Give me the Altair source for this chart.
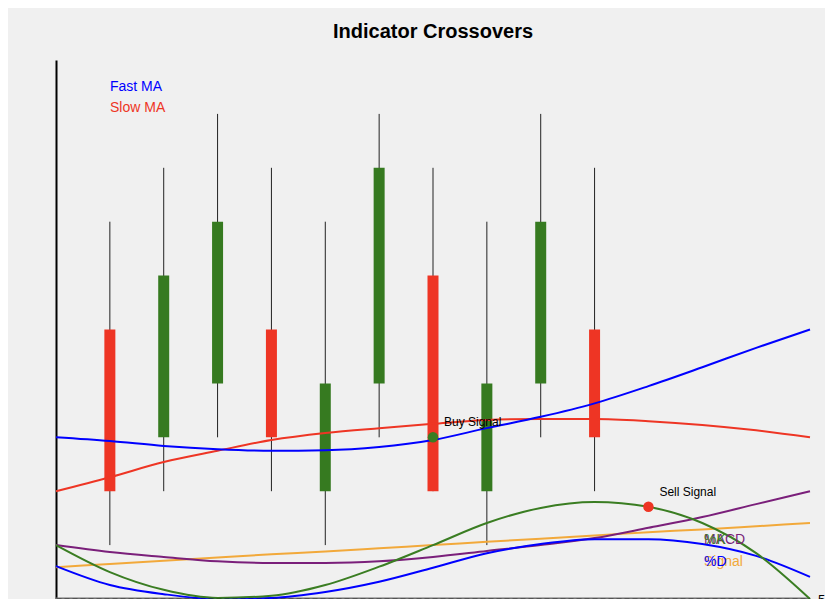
import altair as alt
import pandas as pd

# ---- data ----
candle_x = [1, 2, 3, 4, 5, 6, 7, 8, 9, 10]
opens = [5, 3, 4, 5, 2, 4, 6, 2, 4, 5]
closes = [2, 6, 7, 3, 4, 8, 2, 4, 7, 3]
highs = [7, 8, 9, 8, 7, 9, 8, 7, 9, 8]
lows = [1, 2, 3, 2, 1, 3, 2, 1, 3, 2]

line_x = list(range(15))
fast_ma = [3.0, 2.93, 2.84, 2.78, 2.75, 2.76, 2.82, 2.95, 3.17, 3.38, 3.63, 3.95, 4.3, 4.66, 5.0]
slow_ma = [2.0, 2.26, 2.54, 2.75, 2.95, 3.08, 3.17, 3.25, 3.32, 3.34, 3.34, 3.3, 3.23, 3.13, 3.0]
macd = [1.0, 0.87, 0.78, 0.7, 0.67, 0.67, 0.7, 0.78, 0.89, 1.0, 1.13, 1.32, 1.52, 1.76, 2.0]
signal = [0.59, 0.65, 0.71, 0.77, 0.83, 0.88, 0.94, 1.0, 1.06, 1.12, 1.18, 1.24, 1.29, 1.35, 1.41]
pct_k = [1.0, 0.5, 0.17, 0.02, 0.06, 0.26, 0.6, 1.0, 1.41, 1.69, 1.8, 1.71, 1.41, 0.85, 0.0]
pct_d = [0.61, 0.26, 0.09, 0.0, 0.02, 0.13, 0.32, 0.58, 0.85, 1.02, 1.11, 1.11, 1.02, 0.8, 0.41]

signal_x = [7, 11]
signal_y = [3.0, 1.71]
signal_label = ["Buy Signal", "Sell Signal"]
signal_color = ["#3a7d22", "#ee3524"]

title_text = ["Indicator Crossovers"]
end_label = ["50"]

FONT = "Liberation Sans"
RED = "#ee3524"
GREEN = "#367a20"
BLUE = "#0000ff"
PURPLE = "#7a1f7a"
ORANGE = "#f2a93b"
OSC_GREEN = "#3a7d22"

candles = pd.DataFrame({"x": candle_x, "open": opens, "close": closes,
                        "high": highs, "low": lows})
candles["dir"] = ["up" if c > o else "down" for o, c in zip(opens, closes)]

lines = pd.DataFrame({"x": line_x, "fast": fast_ma, "slow": slow_ma,
                      "macd": macd, "signal": signal, "k": pct_k, "d": pct_d})
sig = pd.DataFrame({"x": signal_x, "y": signal_y, "label": signal_label, "c": signal_color})

xs = alt.Scale(domain=[0, 14], nice=False, zero=False, padding=0)
ys = alt.Scale(domain=[0, 10], nice=False, zero=False, padding=0)

X = alt.X("x:Q", scale=xs, axis=alt.Axis(domain=True, domainColor="#000", domainDash=[5, 3],
                                          domainWidth=1.5, ticks=False, labels=False,
                                          grid=False, title=None, zindex=2))
Yax = alt.Axis(domain=True, domainColor="#000", domainWidth=2, ticks=False, labels=False,
               grid=False, title=None)

base_axis_rule = alt.Chart(pd.DataFrame({"x": [0]})).mark_rule(
    color="#707070", strokeWidth=3).encode(x=alt.value(0), x2=alt.value(754), y=alt.value(539))

wicks = alt.Chart(candles).mark_rule(color="#222222", strokeWidth=1).encode(
    x=X, y=alt.Y("low:Q", scale=ys, axis=Yax), y2="high:Q")

bodies = alt.Chart(candles).mark_bar(size=11).encode(
    x=alt.X("x:Q", scale=xs),
    y=alt.Y("open:Q", scale=ys), y2="close:Q",
    color=alt.Color("dir:N", scale=alt.Scale(domain=["up", "down"], range=[GREEN, RED]), legend=None))

def line(field, color, width=2):
    return alt.Chart(lines).mark_line(color=color, strokeWidth=width, interpolate="monotone").encode(
        x=alt.X("x:Q", scale=xs), y=alt.Y(f"{field}:Q", scale=ys))

pts = alt.Chart(sig).mark_circle(size=110, opacity=1).encode(
    x=alt.X("x:Q", scale=xs), y=alt.Y("y:Q", scale=ys),
    color=alt.Color("c:N", scale=None))
pt_text = alt.Chart(sig).mark_text(align="left", baseline="middle", dx=11, dy=-15,
                                   font=FONT, fontSize=12, color="#000").encode(
    x=alt.X("x:Q", scale=xs), y=alt.Y("y:Q", scale=ys), text="label:N")

end_text = alt.Chart(pd.DataFrame({"t": end_label})).mark_text(
    align="left", baseline="middle", font=FONT, fontSize=13, color="#000").encode(
    x=alt.value(762), y=alt.value(540), text="t:N")

title = alt.Chart(pd.DataFrame({"t": title_text})).mark_text(
    align="center", baseline="middle", font=FONT, fontSize=20, fontWeight="bold",
    color="#000").encode(x=alt.value(377), y=alt.value(-28), text="t:N")

def legend_text(t, color, x, y):
    return alt.Chart(pd.DataFrame({"t": [t]})).mark_text(
        align="left", baseline="middle", font=FONT, fontSize=14, color=color).encode(
        x=alt.value(x), y=alt.value(y), text="t:N")

chart = alt.layer(
    base_axis_rule, wicks, bodies,
    line("signal", ORANGE), line("macd", PURPLE), line("d", BLUE), line("k", OSC_GREEN),
    line("slow", RED), line("fast", BLUE),
    pts, pt_text, end_text, title,
    legend_text("Fast MA", BLUE, 54, 27), legend_text("Slow MA", RED, 54, 48),
    legend_text("MACD", PURPLE, 648, 480), legend_text("%K", OSC_GREEN, 648, 480),
    legend_text("Signal", ORANGE, 648, 502), legend_text("%D", BLUE, 648, 502),
).properties(
    width=754, height=539,
    autosize=alt.AutoSizeParams(type="none"),
    padding={"left": 48, "top": 52, "right": 15, "bottom": 0},
    background="#f0f0f0",
).configure_view(stroke=None)

chart.save("out.html", embed_options={"renderer": "svg", "actions": False})
